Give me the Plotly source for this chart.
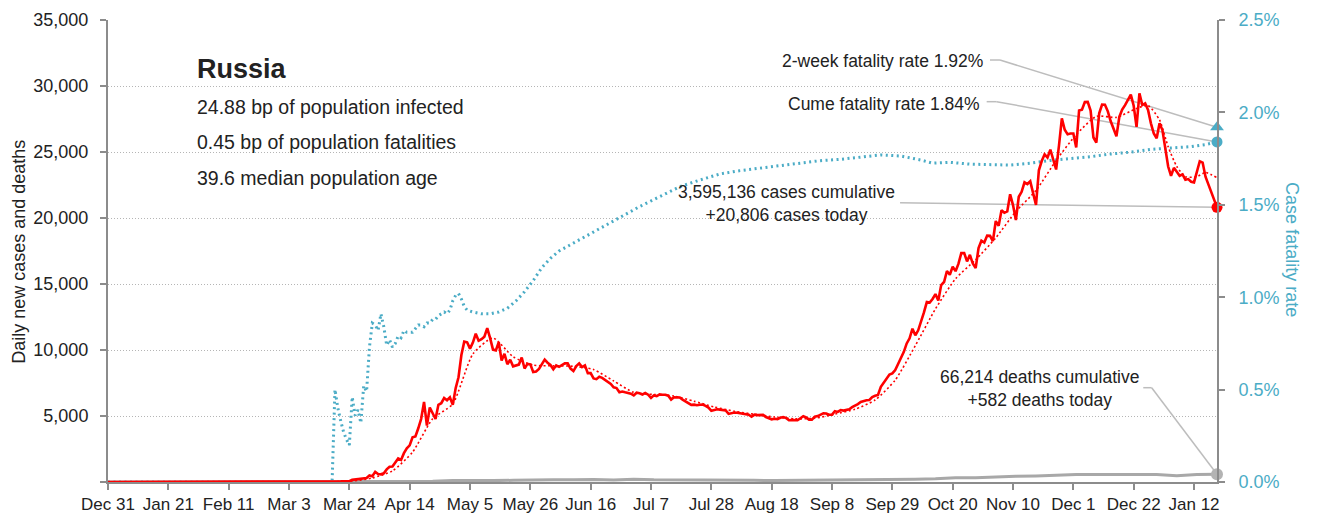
import pandas as pd
import plotly.graph_objects as go

# ---------------- data ----------------
# Daily new confirmed cases, 1 Mar 2020 onward (one value per day)
cases_mar = [0, 1, 0, 0, 1, 0, 6, 3, 0, 7, 0, 8, 15, 14, 4, 30, 21, 33, 52, 54,
             53, 61, 71, 57, 163, 182, 196, 228, 270, 302, 501]
cases_apr = [440, 771, 601, 582, 658, 954, 1154, 1175, 1459, 1786,
             1667, 2186, 2558, 2774, 3388, 3448, 4070, 4785, 6060, 4268,
             5642, 5236, 4774, 5849, 5966, 6361, 6198, 6411, 5841, 7099]
cases_may = [7933, 9623, 10633, 10581, 10102, 10559, 11231, 10699, 10817, 11012,
             11656, 10899, 10028, 9974, 10598, 9200, 9709, 8926, 9263, 8764,
             8849, 8894, 9434, 8599, 8946, 8915, 8338, 8371, 8572, 8952, 9268]
cases_jun = [9035, 8863, 8536, 8831, 8726, 8855, 8984, 8985, 8595, 8404,
             8779, 8987, 8706, 8835, 8246, 8248, 7843, 7790, 7972, 7889,
             7728, 7600, 7425, 7176, 7113, 6800, 6852, 6791, 6719, 6693]
cases_jul = [6556, 6760, 6718, 6632, 6736, 6611, 6368, 6562, 6509, 6635,
             6611, 6615, 6537, 6248, 6422, 6428, 6406, 6234, 6109, 5940,
             5842, 5862, 5811, 5848, 5871, 5765, 5635, 5395, 5475, 5509, 5482]
cases_aug = [5462, 5427, 5159, 5204, 5267, 5241, 5212, 5189, 5118, 5102,
             4945, 5102, 5065, 5061, 5083, 4921, 4839, 4748, 4790, 4767,
             4870, 4921, 4852, 4676, 4696, 4711, 4676, 4829, 4980, 4897, 4729]
cases_sep = [4729, 4952, 4995, 5110, 5205, 5185, 5099, 5099, 5363, 5310,
             5449, 5406, 5488, 5509, 5670, 5762, 5905, 6065, 6148, 6196,
             6215, 6431, 6529, 6595, 7212, 7523, 7867, 8135, 8232, 8481]
cases_oct = [8945, 9412, 9859, 10499, 10888, 11615, 11115, 11493, 12126, 12846,
             13634, 13592, 13868, 14231, 13754, 14922, 15150, 15982, 15700, 16319,
             15971, 16521, 17340, 17347, 16710, 17205, 16550, 16202, 17717, 18283, 18140]
cases_nov = [18665, 18648, 18257, 19768, 19404, 20582, 20396, 20498, 21798, 20977,
             19851, 21608, 21983, 22702, 22572, 22778, 21977, 20985, 23610, 24318,
             24822, 24581, 25173, 24326, 23675, 25487, 27543, 26683, 26338, 26402]
cases_dec = [26402, 25345, 28145, 28209, 28782, 28800, 28137, 26097, 25718, 27927,
             28585, 28580, 28080, 27328, 26689, 26190, 27656, 28214, 28552, 28948,
             29350, 28500, 26900, 29450, 28560, 28690, 28180, 27170, 26400, 26040, 27170]
cases_jan = [26660, 25300, 23900, 23200, 23800, 23500, 23200, 23300, 22900, 22950,
             22750, 22700, 23600, 24300, 24200, 23130, 22550, 21950, 21380, 20806]

# Smoothed trend of daily cases
trend_dates = ["2020-03-01", "2020-03-11", "2020-03-18", "2020-03-25", "2020-04-01",
               "2020-04-08", "2020-04-15", "2020-04-22", "2020-04-29", "2020-05-06",
               "2020-05-13", "2020-05-20", "2020-05-27", "2020-06-03", "2020-06-10",
               "2020-06-17", "2020-06-24", "2020-07-01", "2020-07-08", "2020-07-15",
               "2020-07-22", "2020-07-29", "2020-08-05", "2020-08-12", "2020-08-19",
               "2020-08-26", "2020-09-02", "2020-09-09", "2020-09-16", "2020-09-23",
               "2020-09-30", "2020-10-07", "2020-10-14", "2020-10-21", "2020-10-28",
               "2020-11-04", "2020-11-11", "2020-11-18", "2020-11-25", "2020-12-02",
               "2020-12-09", "2020-12-16", "2020-12-23", "2020-12-27", "2020-12-31",
               "2021-01-03", "2021-01-06", "2021-01-09", "2021-01-13", "2021-01-16",
               "2021-01-20"]
trend_values = [0, 2, 18, 73, 303,
                842, 2260, 4787, 5914, 9700,
                10906, 9491, 8854, 8800, 8769,
                8521, 7654, 6789, 6627, 6511,
                6117, 5686, 5359, 5130, 4930,
                4785, 4827, 5151, 5513, 6213,
                7721, 10333, 13113, 15400, 16839,
                18497, 20501, 22086, 24358, 26314,
                27698, 27626, 28303, 28520, 27430,
                25400, 23900, 23130, 23130, 23450,
                23050]

# Daily deaths
death_dates = ["2019-12-31", "2020-03-18", "2020-04-01", "2020-04-08", "2020-04-15",
               "2020-04-22", "2020-04-29", "2020-05-06", "2020-05-13", "2020-05-20",
               "2020-05-27", "2020-06-03", "2020-06-10", "2020-06-17", "2020-06-24",
               "2020-07-01", "2020-07-08", "2020-07-15", "2020-07-22", "2020-07-29",
               "2020-08-05", "2020-08-12", "2020-08-19", "2020-08-26", "2020-09-02",
               "2020-09-09", "2020-09-16", "2020-09-23", "2020-09-30", "2020-10-07",
               "2020-10-14", "2020-10-21", "2020-10-28", "2020-11-04", "2020-11-11",
               "2020-11-18", "2020-11-25", "2020-12-02", "2020-12-09", "2020-12-16",
               "2020-12-23", "2020-12-30", "2021-01-06", "2021-01-13", "2021-01-20"]
death_values = [0, 0, 7, 5, 28,
                57, 105, 86, 107, 127,
                174, 178, 171, 194, 154,
                216, 173, 175, 165, 169,
                129, 129, 114, 121, 123,
                122, 144, 160, 169, 202,
                239, 317, 320, 389, 432,
                456, 507, 569, 560, 562,
                562, 576, 469, 559, 582]

# Case fatality rate (%), daily 18 Mar – 30 Apr, sparser afterwards
cfr_early = [0, 0.50, 0.40, 0.33, 0.27, 0.23, 0.20, 0.46, 0.36, 0.39, 0.32, 0.52, 0.49, 0.73,
             0.86, 0.85, 0.82, 0.91, 0.84, 0.74, 0.77, 0.73, 0.75, 0.79,
             0.78, 0.82, 0.81, 0.81, 0.81, 0.83, 0.85, 0.85, 0.84, 0.86,
             0.86, 0.88, 0.88, 0.90, 0.91, 0.92, 0.91, 0.93, 0.98, 1.01]
cfr_late_dates = ["2020-05-01", "2020-05-02", "2020-05-03", "2020-05-04", "2020-05-06",
                  "2020-05-09", "2020-05-12", "2020-05-15", "2020-05-18", "2020-05-21",
                  "2020-05-24", "2020-05-27", "2020-05-30", "2020-06-02", "2020-06-05",
                  "2020-06-12", "2020-06-19", "2020-06-26", "2020-07-03", "2020-07-10",
                  "2020-07-17", "2020-07-24", "2020-07-31", "2020-08-07", "2020-08-14",
                  "2020-08-21", "2020-08-28", "2020-09-04", "2020-09-11", "2020-09-18",
                  "2020-09-25", "2020-10-02", "2020-10-09", "2020-10-13", "2020-10-19",
                  "2020-10-26", "2020-11-02", "2020-11-09", "2020-11-16", "2020-11-23",
                  "2020-11-30", "2020-12-07", "2020-12-14", "2020-12-21", "2020-12-28",
                  "2021-01-04", "2021-01-11", "2021-01-16", "2021-01-20"]
cfr_late = [1.02, 0.99, 0.95, 0.93, 0.92,
            0.91, 0.91, 0.92, 0.94, 0.98,
            1.03, 1.09, 1.16, 1.21, 1.25,
            1.31, 1.37, 1.43, 1.49, 1.544,
            1.598, 1.634, 1.667, 1.685, 1.698,
            1.71, 1.725, 1.739, 1.746, 1.757,
            1.77, 1.764, 1.742, 1.725, 1.73,
            1.72, 1.718, 1.715, 1.725, 1.74,
            1.75, 1.76, 1.775, 1.785, 1.80,
            1.806, 1.815, 1.826, 1.84]

# Headline figures
country = "Russia"
pct_infected_bp = "24.88"
pct_fatal_bp = "0.45"
median_age = "39.6"
cases_cumulative = 3595136
cases_today = 20806
deaths_cumulative = 66214
deaths_today = 582
cfr_two_week = 1.92
cfr_cume = 1.84

tick_dates = ["2019-12-31", "2020-01-21", "2020-02-11", "2020-03-03", "2020-03-24",
              "2020-04-14", "2020-05-05", "2020-05-26", "2020-06-16", "2020-07-07",
              "2020-07-28", "2020-08-18", "2020-09-08", "2020-09-29", "2020-10-20",
              "2020-11-10", "2020-12-01", "2020-12-22", "2021-01-12"]
tick_labels = ["Dec 31", "Jan 21", "Feb 11", "Mar 3", "Mar 24", "Apr 14", "May 5",
               "May 26", "Jun 16", "Jul 7", "Jul 28", "Aug 18", "Sep 8", "Sep 29",
               "Oct 20", "Nov 10", "Dec 1", "Dec 22", "Jan 12"]
case_ticks = [0, 5000, 10000, 15000, 20000, 25000, 30000, 35000]
case_tick_labels = ["", "5,000", "10,000", "15,000", "20,000", "25,000", "30,000", "35,000"]
cfr_ticks = [0, 0.5, 1.0, 1.5, 2.0, 2.5]
cfr_tick_labels = ["0.0%", "0.5%", "1.0%", "1.5%", "2.0%", "2.5%"]

# ---------------- assemble series ----------------
cases_daily = (cases_mar + cases_apr + cases_may + cases_jun + cases_jul + cases_aug
               + cases_sep + cases_oct + cases_nov + cases_dec + cases_jan)
case_dates = ["2019-12-31"] + list(
    pd.date_range("2020-03-01", periods=len(cases_daily)).strftime("%Y-%m-%d"))
case_values = [0] + cases_daily
last_date = case_dates[-1]

cfr_dates = (["2019-12-31", "2020-03-17"]
             + list(pd.date_range("2020-03-18", periods=len(cfr_early)).strftime("%Y-%m-%d"))
             + cfr_late_dates)
cfr_values = [0, 0] + cfr_early + cfr_late

# ---------------- styling ----------------
FONT = "Liberation Sans, Arial, sans-serif"
RED = "#ff0000"
TEAL = "#4bacc6"
GRAY = "#a8a8a8"
AXIS = "#8c8c8c"
LEADER = "#bdbdbd"
TEXT = "#222222"

fig = go.Figure()

# CFR on the primary (right-hand) axis so the case lines are drawn above it
fig.add_trace(go.Scatter(x=cfr_dates, y=cfr_values, mode="lines", yaxis="y",
                         line=dict(color=TEAL, width=3, dash="2px,3.5px"),
                         hoverinfo="skip"))
fig.add_trace(go.Scatter(x=death_dates, y=death_values, mode="lines", yaxis="y2",
                         line=dict(color=GRAY, width=3), hoverinfo="skip"))
fig.add_trace(go.Scatter(x=trend_dates, y=trend_values, mode="lines", yaxis="y2",
                         line=dict(color=RED, width=1.6, dash="2px,2.5px", shape="spline",
                                   smoothing=0.6),
                         hoverinfo="skip"))
fig.add_trace(go.Scatter(x=case_dates, y=case_values, mode="lines", yaxis="y2",
                         line=dict(color=RED, width=2.6), hoverinfo="skip"))

# End-point markers
fig.add_trace(go.Scatter(x=[last_date], y=[deaths_today], mode="markers", yaxis="y2",
                         marker=dict(color="#b3b3b3", size=12), cliponaxis=False))
fig.add_trace(go.Scatter(x=[last_date], y=[cases_today], mode="markers", yaxis="y2",
                         marker=dict(color=RED, size=11), cliponaxis=False))
fig.add_trace(go.Scatter(x=[last_date], y=[cfr_cume], mode="markers", yaxis="y",
                         marker=dict(color=TEAL, size=11), cliponaxis=False))
fig.add_trace(go.Scatter(x=[last_date], y=[cfr_two_week], mode="markers", yaxis="y",
                         marker=dict(color=TEAL, size=12, symbol="triangle-up"),
                         cliponaxis=False))


# Leader lines from the callout texts to the end points
def leader(points, yref):
    for (x0, y0), (x1, y1) in zip(points[:-1], points[1:]):
        fig.add_shape(type="line", xref="paper", yref=yref, x0=x0, y0=y0, x1=x1, y1=y1,
                      line=dict(color=LEADER, width=1.5), layer="below")


leader([(0.7953, 2.2835), (0.8043, 2.2835), (1.0, cfr_two_week)], "y")
leader([(0.7923, 2.058), (0.8013, 2.058), (1.0, cfr_cume)], "y")
leader([(0.7142, 21160), (1.0, cases_today)], "y2")
leader([(0.9335, 7144), (0.9411, 7144), (1.0, deaths_today)], "y2")


def note(text, x, y, size=18, xanchor="left", align="left", color=TEXT, weight="normal",
         **kw):
    fig.add_annotation(text=text, x=x, y=y, xref="paper", yref="paper",
                       xanchor=xanchor, yanchor="middle", align=align, showarrow=False,
                       font=dict(family=FONT, size=size, color=color, weight=weight), **kw)


note(country, 0.0785, 0.893, size=27, weight="bold")
note(f"{pct_infected_bp} bp of population infected", 0.0785, 0.812, size=19.5)
note(f"{pct_fatal_bp} bp of population fatalities", 0.0785, 0.735, size=19.5)
note(f"{median_age} median population age", 0.0785, 0.659, size=19.5)

note(f"2-week fatality rate {cfr_two_week:.2f}%", 0.7908, 0.912, size=17.5,
     xanchor="right", align="right")
note(f"Cume fatality rate {cfr_cume:.2f}%", 0.7878, 0.819, size=17.5,
     xanchor="right", align="right")
note(f"{cases_cumulative:,} cases cumulative<br>+{cases_today:,} cases today",
     0.6114, 0.602, size=17.5, xanchor="center", align="center")
note(f"{deaths_cumulative:,} deaths cumulative<br>+{deaths_today:,} deaths today",
     0.8395, 0.202, size=17.5, xanchor="center", align="center")

# Axis titles
note("Daily new cases and deaths", -0.0803, 0.498, size=18, xanchor="center",
     align="center", textangle=-90)
note("Case fatality rate", 1.0676, 0.502, size=18, xanchor="center", align="center",
     color=TEAL, textangle=90)

fig.update_layout(
    width=1319, height=522,
    margin=dict(l=108, r=102, t=20, b=40),
    paper_bgcolor="white", plot_bgcolor="white",
    showlegend=False,
    font=dict(family=FONT, size=17, color=TEXT),
    xaxis=dict(type="date", range=["2019-12-31", last_date],
               tickvals=tick_dates, ticktext=tick_labels, tickangle=0, automargin=False,
               ticks="outside", ticklen=6, tickwidth=1.5, tickcolor=AXIS,
               showline=True, linecolor=AXIS, linewidth=2, showgrid=False,
               zeroline=False, tickfont=dict(size=17, color=TEXT)),
    yaxis=dict(side="right", range=[0, 2.5], tickvals=cfr_ticks, ticktext=cfr_tick_labels,
               ticks="outside", ticklen=6, tickwidth=1.5, tickcolor=AXIS, automargin=False,
               showline=True, linecolor=AXIS, linewidth=2, showgrid=False, zeroline=False,
               tickfont=dict(size=18, color=TEAL), ticklabelstandoff=10),
    yaxis2=dict(side="left", overlaying="y", range=[0, 35000], tickvals=case_ticks,
                ticktext=case_tick_labels, automargin=False,
                ticks="outside", ticklen=6, tickwidth=1.5, tickcolor=AXIS,
                showline=True, linecolor=AXIS, linewidth=2,
                showgrid=True, gridcolor="#b5b5b5", gridwidth=1, griddash="1px,2px",
                zeroline=False, tickfont=dict(size=18, color=TEXT), ticklabelstandoff=8),
)

fig.write_html("out.html")
